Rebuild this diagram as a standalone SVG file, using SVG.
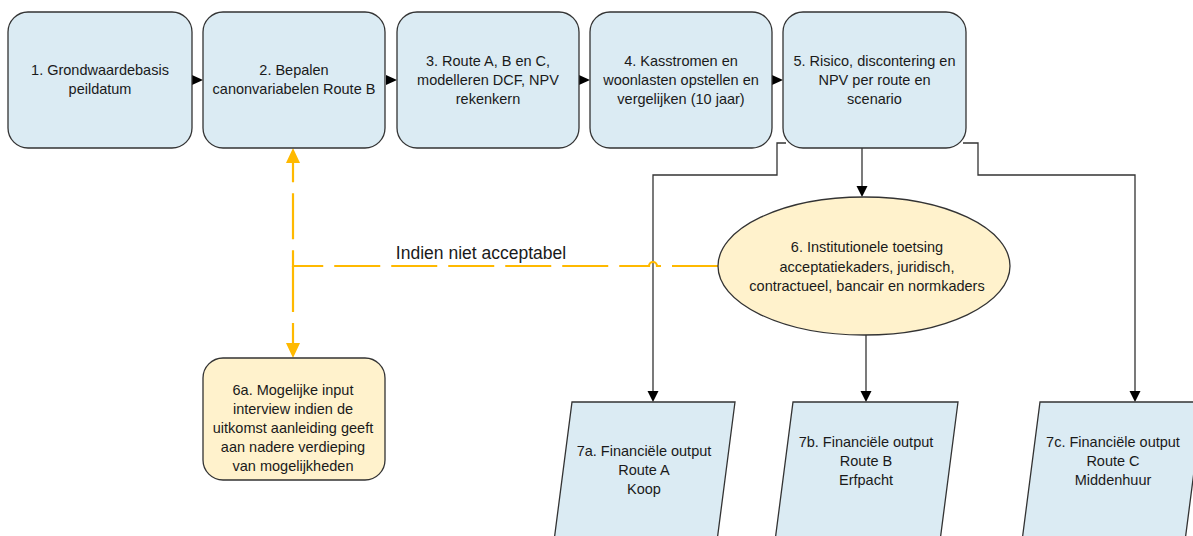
<svg xmlns="http://www.w3.org/2000/svg" width="1193" height="536" viewBox="0 0 1193 536">
<style>
.box{fill:#dbebf3;stroke:#333;stroke-width:1.3}
.yel{fill:#fff2cc;stroke:#333;stroke-width:1.3}
.t{font-family:"Liberation Sans",Arial,sans-serif;font-size:14.5px;fill:#1a1a1a;text-anchor:middle}
.lbl{font-family:"Liberation Sans",Arial,sans-serif;font-size:17.5px;fill:#1a1a1a;text-anchor:middle}
.con{fill:none;stroke:#333;stroke-width:1.3}
.dash{fill:none;stroke:#ffb900;stroke-width:2.2;stroke-dasharray:46 11}
.ah{fill:#000}
.oh{fill:#ffb900}
</style>
<g id="connectors">
  <path class="ah" d="M192,75 L203,80 L192,85 Z"/>
  <path class="ah" d="M386,75 L397,80 L386,85 Z"/>
  <path class="ah" d="M579,75 L590,80 L579,85 Z"/>
  <path class="ah" d="M772,75 L783,80 L772,85 Z"/>
  <path class="con" d="M786,143 H777 V175 H653 V392"/>
  <path class="ah" d="M647.5,391 L658.5,391 L653,402 Z"/>
  <path class="con" d="M862,148 V187"/>
  <path class="ah" d="M856.5,186 L867.5,186 L862,197 Z"/>
  <path class="con" d="M963,143 H978 V175 H1135 V392"/>
  <path class="ah" d="M1129.5,391 L1140.5,391 L1135,402 Z"/>
  <path class="con" d="M866,335 V392"/>
  <path class="ah" d="M860.5,391 L871.5,391 L866,402 Z"/>
  <path class="dash" d="M718,266 H657 A4,4 0 0 0 649,266 H293 V163"/>
  <path class="dash" d="M293,266 V344"/>
  <path class="oh" d="M286,163 L300,163 L293,148 Z"/>
  <path class="oh" d="M286,343 L300,343 L293,358 Z"/>
  <text class="lbl" x="481" y="259">Indien niet acceptabel</text>
</g>
<g id="n1">
  <rect class="box" x="8" y="12" width="184" height="136" rx="20"/>
  <text class="t" x="100" y="75">1. Grondwaardebasis</text>
  <text class="t" x="100" y="94">peildatum</text>
</g>
<g id="n2">
  <rect class="box" x="203" y="12" width="182" height="136" rx="20"/>
  <text class="t" x="294" y="75">2. Bepalen</text>
  <text class="t" x="294" y="94">canonvariabelen Route B</text>
</g>
<g id="n3">
  <rect class="box" x="397" y="12" width="182" height="136" rx="20"/>
  <text class="t" x="488" y="66">3. Route A, B en C,</text>
  <text class="t" x="488" y="85">modelleren DCF, NPV</text>
  <text class="t" x="488" y="104">rekenkern</text>
</g>
<g id="n4">
  <rect class="box" x="590" y="12" width="182" height="136" rx="20"/>
  <text class="t" x="681" y="66">4. Kasstromen en</text>
  <text class="t" x="681" y="85">woonlasten opstellen en</text>
  <text class="t" x="681" y="104">vergelijken (10 jaar)</text>
</g>
<g id="n5">
  <rect class="box" x="783" y="12" width="183" height="136" rx="20"/>
  <text class="t" x="874.5" y="66">5. Risico, discontering en</text>
  <text class="t" x="874.5" y="85">NPV per route en</text>
  <text class="t" x="874.5" y="104">scenario</text>
</g>
<g id="n6">
  <ellipse class="yel" cx="864" cy="266" rx="146" ry="69"/>
  <text class="t" x="867" y="252">6. Institutionele toetsing</text>
  <text class="t" x="867" y="272">acceptatiekaders, juridisch,</text>
  <text class="t" x="867" y="291">contractueel, bancair en normkaders</text>
</g>
<g id="n6a">
  <rect class="yel" x="203" y="358" width="182" height="122" rx="20"/>
  <text class="t" x="293" y="395">6a. Mogelijke input</text>
  <text class="t" x="293" y="414">interview indien de</text>
  <text class="t" x="293" y="433">uitkomst aanleiding geeft</text>
  <text class="t" x="293" y="452">aan nadere verdieping</text>
  <text class="t" x="293" y="471">van mogelijkheden</text>
</g>
<g id="n7a">
  <polygon class="box" points="572,402 735,402 713,572 550,572"/>
  <text class="t" x="644" y="456">7a. Financiële output</text>
  <text class="t" x="644" y="475">Route A</text>
  <text class="t" x="644" y="494">Koop</text>
</g>
<g id="n7b">
  <polygon class="box" points="793,402 958,402 936,572 771,572"/>
  <text class="t" x="866" y="447">7b. Financiële output</text>
  <text class="t" x="866" y="466">Route B</text>
  <text class="t" x="866" y="485">Erfpacht</text>
</g>
<g id="n7c">
  <polygon class="box" points="1040,402 1203,402 1181,572 1018,572"/>
  <text class="t" x="1113" y="447">7c. Financiële output</text>
  <text class="t" x="1113" y="466">Route C</text>
  <text class="t" x="1113" y="485">Middenhuur</text>
</g>
</svg>
